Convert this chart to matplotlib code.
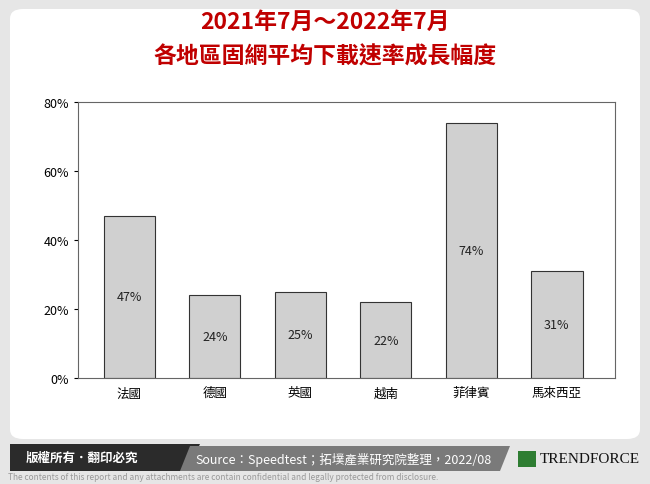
import matplotlib
matplotlib.use("Agg")
import matplotlib.pyplot as plt
from matplotlib.patches import FancyBboxPatch, Polygon, Rectangle

plt.rcParams["font.family"] = ["Noto Sans CJK TC", "DejaVu Sans"]

regions = ["法國", "德國", "英國", "越南", "菲律賓", "馬來西亞"]
growth = [47, 24, 25, 22, 74, 31]
yticks = [0, 20, 40, 60, 80]

W, H = 650, 485
fig = plt.figure(figsize=(6.5, 4.85), dpi=100)
fig.patch.set_facecolor("#e6e6e6")

def fx(px):
    return px / W

def fy(py):
    return 1 - py / H

# white panel
panel = FancyBboxPatch((fx(10), fy(440)), fx(630), 430 / H,
                       boxstyle="round,pad=0,rounding_size=0.02",
                       transform=fig.transFigure, facecolor="white",
                       edgecolor="none", zorder=-5)
fig.patches.append(panel)

fig.text(0.5, fy(22), "2021年7月～2022年7月", ha="center", va="center",
         color="#c00000", fontsize=16.5, fontweight="bold")
fig.text(0.5, fy(57), "各地區固網平均下載速率成長幅度", ha="center", va="center",
         color="#c00000", fontsize=16.5, fontweight="bold")

ax = fig.add_axes([fx(78), fy(379), fx(615 - 78), (379 - 103) / H])
ax.set_zorder(2)
ax.patch.set_alpha(0)
x = range(len(regions))
ax.bar(x, growth, width=0.6, color="#d0d0d0", edgecolor="#333333", linewidth=0.8)
for i, v in enumerate(growth):
    ax.text(i, v / 2, f"{v}%", ha="center", va="center", fontsize=9, color="#222222")
ax.set_ylim(0, 80)
ax.set_xlim(-0.6, len(regions) - 0.32)
ax.set_yticks(yticks)
ax.set_yticklabels([f"{t}%" for t in yticks], fontsize=9)
ax.set_xticks(list(x))
ax.set_xticklabels(regions, fontsize=9)
ax.tick_params(axis="x", length=0, pad=6)
ax.tick_params(axis="y", length=3, direction="out")
for s in ax.spines.values():
    s.set_color("#666666")
    s.set_linewidth(0.8)

# footer
dark = Polygon([(fx(10), fy(445)), (fx(200), fy(445)), (fx(188), fy(472)),
                (fx(10), fy(472))], closed=True, transform=fig.transFigure,
               facecolor="#2b2b2b", edgecolor="none")
gray = Polygon([(fx(190), fy(447)), (fx(510), fy(447)), (fx(500), fy(472)),
                (fx(180), fy(472))], closed=True, transform=fig.transFigure,
               facecolor="#7a7a7a", edgecolor="none")
fig.patches.extend([dark, gray])
fig.text(fx(26), fy(458), "版權所有．翻印必究", color="white", fontsize=9,
         va="center", fontweight="bold")
fig.text(fx(195), fy(460), "Source：Speedtest；拓墣產業研究院整理，2022/08",
         color="white", fontsize=9, va="center")
fig.patches.append(Rectangle((fx(518), fy(468)), fx(18), 16 / H,
                             transform=fig.transFigure, facecolor="#2e7d32",
                             edgecolor="none"))
fig.text(fx(540), fy(460), "TRENDFORCE", color="#111111", fontsize=11,
         va="center", family="Liberation Serif")
fig.text(fx(8), fy(478), "The contents of this report and any attachments are contain "
         "confidential and legally protected from disclosure.",
         color="#999999", fontsize=6, va="center")

fig.savefig("out.png", dpi=100, facecolor=fig.get_facecolor())
